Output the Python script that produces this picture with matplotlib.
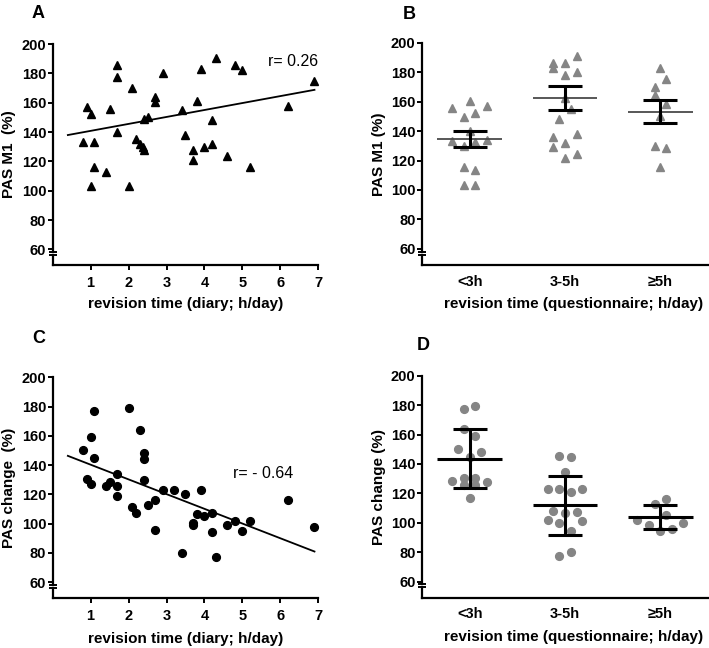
import matplotlib
matplotlib.use("Agg")
import matplotlib.pyplot as plt
import numpy as np

plt.rcParams["font.family"] = ["Liberation Sans", "DejaVu Sans"]
plt.rcParams["font.weight"] = "bold"
plt.rcParams["axes.labelweight"] = "bold"

# --- panel A / C: diary revision time vs PAS ---
diary_a = [0.8, 0.91, 1.0, 1.1, 1.0, 1.1, 1.4, 1.5, 1.7, 1.7, 1.7, 2.0, 2.1, 2.2,
           2.3, 2.38, 2.4, 2.4, 2.5, 2.7, 2.7, 2.9, 3.4, 3.5, 3.7, 3.7, 3.8, 3.9,
           4.0, 4.2, 4.2, 4.3, 4.6, 4.8, 5.0, 5.2, 6.2, 6.9]
pas_m1 = [133, 157, 152, 133, 103.6, 116, 113, 156, 186, 177.5, 140, 103.6, 170, 135.6,
          132, 130, 128, 149, 150, 164, 160.5, 180, 155, 138, 128, 121, 161.5, 183,
          130, 131.8, 148, 190.7, 124, 186, 182.5, 116, 158, 175]
fit_a = (136.1, 4.74)  # intercept, slope
r_a = "r= 0.26"

diary_c = [0.8, 0.9, 1.0, 1.0, 1.1, 1.1, 1.4, 1.5, 1.7, 1.7, 1.7, 2.0, 2.1, 2.2,
           2.3, 2.4, 2.4, 2.4, 2.5, 2.7, 2.7, 2.9, 3.2, 3.4, 3.5, 3.7, 3.7, 3.8,
           3.9, 4.0, 4.2, 4.2, 4.3, 4.6, 4.8, 5.0, 5.2, 6.2, 6.9]
pas_change = [150.3, 130.3, 126.9, 159.2, 177, 145, 125.7, 128.2, 134.2, 125.5, 118.7, 179, 111.6, 107,
              164, 148.5, 144.4, 130, 112.8, 116.4, 95.5, 123, 123, 80, 120.3, 100.2, 99, 106.6,
              123, 105, 107.5, 94, 77.2, 99.3, 101.6, 94.8, 101.6, 116, 97.7]
fit_c = (150.4, -10.06)
r_c = "r= - 0.64"
fit_range = (0.4, 6.9)

# --- panel B / D: questionnaire groups ---
groups = ["<3h", "3-5h", "\u22655h"]

b_vals = [
    [155.8, 160.6, 157.2, 149.3, 152.4, 140.0, 133.4, 130.0, 132.7, 133.9, 115.7, 113.3, 103.5, 103.5],
    [186.4, 186.0, 191.2, 182.6, 178.0, 180.3, 162.2, 155.2, 148.1, 136.1, 131.6, 138.2, 128.9, 121.8, 124.2],
    [182.6, 175.3, 169.9, 164.2, 158.3, 150.0, 130.0, 128.6, 115.7],
]
b_slots = [
    [-3, 0, 3, -1, 1, 0, -3, -1, 1, 3, -1, 1, -1, 1],
    [-2, 0, 2, -2, 0, 2, 0, 1, -1, -2, 0, 2, -2, 0, 2],
    [0, 1, -1, -1, 1, 0, -1, 1, 0],
]
b_mean = [134.6, 162.2, 153.1]
b_lo = [129.1, 154.0, 145.4]
b_hi = [140.0, 170.4, 160.8]

d_vals = [
    [177.2, 179.2, 163.8, 159.2, 150.4, 148.3, 144.9, 128.6, 130.7, 130.7, 125.9, 125.5, 127.6, 116.7],
    [145.4, 144.7, 134.5, 122.8, 122.8, 120.8, 122.8, 107.8, 106.9, 107.4, 101.9, 99.7, 101.3, 94.7, 77.5, 80.0],
    [112.8, 116.0, 105.3, 102.0, 98.2, 94.7, 95.6, 99.7],
]
d_slots = [
    [-1, 1, -1, 1, -2, 2, 0, -3, -1, 1, -1, 1, 3, 0],
    [-1, 1, 0, -3, -1, 1, 3, -2, 0, 2, -3, -1, 3, 1, -1, 1],
    [-1, 1, 1, -4, -2, 0, 2, 4],
]
d_mean = [143.4, 112.1, 104.2]
d_lo = [123.5, 91.5, 95.8]
d_hi = [163.8, 132.0, 112.3]

yticks = [60, 80, 100, 120, 140, 160, 180, 200]
GREY = "#858585"
SLOT = 0.0604
TICK_FS = 10.5
LABEL_FS = 11


def broken_yaxis(ax, ybot):
    ax.spines["left"].set_visible(False)
    tr = ax.get_yaxis_transform()
    ax.plot([0, 0], [58.0, 200], color="black", lw=1.6, transform=tr, clip_on=False, zorder=5)
    ax.plot([0, 0], [ybot, 56.1], color="black", lw=1.6, transform=tr, clip_on=False, zorder=5)
    ax.plot([0, 0], [58.0, 56.1], ls="none", marker="_", ms=6, mew=1.4, color="black",
            transform=tr, clip_on=False, zorder=5)


def style(ax, ybot):
    ax.set_ylim(ybot, 200)
    ax.set_yticks(yticks)
    ax.spines["top"].set_visible(False)
    ax.spines["right"].set_visible(False)
    ax.spines["bottom"].set_linewidth(1.6)
    ax.tick_params(axis="y", direction="out", length=3.6, width=1.4, pad=1, labelsize=TICK_FS)
    broken_yaxis(ax, ybot)


def scatter_panel(ax, x, y, marker, fit, rtxt, rpos, ylabel, ms):
    ybot = 49.4
    ax.plot(x, y, ls="none", marker=marker, ms=ms, color="black", clip_on=False, zorder=3)
    xs = np.array(fit_range)
    ax.plot(xs, fit[0] + fit[1] * xs, color="black", lw=1.3, zorder=4)
    ax.set_xlim(0, 7)
    ax.set_xticks(range(1, 8))
    ax.tick_params(axis="x", direction="out", length=3.6, width=1.4, pad=4.5, labelsize=TICK_FS)
    style(ax, ybot)
    ax.text(rpos[0], rpos[1], rtxt, fontsize=11.5, fontweight="normal", va="center", ha="left")
    ax.set_ylabel(ylabel, fontsize=LABEL_FS)
    ax.yaxis.set_label_coords(-0.138, 0.5)
    ax.set_xlabel("revision time (diary; h/day)", fontsize=LABEL_FS)


def group_panel(ax, vals, slots, mean, lo, hi, marker, ms, mean_color, mean_lw, ylabel):
    ybot = 49.0
    for i, (v, s) in enumerate(zip(vals, slots)):
        xx = i + np.array(s) * SLOT
        ax.plot(xx, v, ls="none", marker=marker, ms=ms, color=GREY, mec=GREY, clip_on=False, zorder=3)
    for i in range(len(groups)):
        ax.plot([i - 0.34, i + 0.34], [mean[i], mean[i]], color=mean_color, lw=mean_lw, zorder=4,
                solid_capstyle="butt")
        ax.plot([i, i], [lo[i], hi[i]], color="black", lw=2.2, zorder=5, solid_capstyle="butt")
        for yy in (lo[i], hi[i]):
            ax.plot([i - 0.18, i + 0.18], [yy, yy], color="black", lw=2.2, zorder=5,
                    solid_capstyle="butt")
    ax.set_xlim(-0.5, 2.5)
    ax.set_xticks(range(len(groups)))
    ax.set_xticklabels(groups)
    ax.tick_params(axis="x", length=0, pad=7, labelsize=TICK_FS)
    style(ax, ybot)
    ax.set_ylabel(ylabel, fontsize=LABEL_FS)
    ax.yaxis.set_label_coords(-0.126, 0.5)
    ax.set_xlabel("revision time (questionnaire; h/day)", fontsize=LABEL_FS)


fig = plt.figure(figsize=(7.09, 6.48), dpi=100)
ax_a = fig.add_axes([0.0743, 0.591, 0.3746, 0.341])
ax_b = fig.add_axes([0.5952, 0.591, 0.4034, 0.343])
ax_c = fig.add_axes([0.0743, 0.0776, 0.3746, 0.340])
ax_d = fig.add_axes([0.5952, 0.0776, 0.4034, 0.3426])

scatter_panel(ax_a, diary_a, pas_m1, "^", fit_a, r_a, (5.68, 188), "PAS M1  (%)", 6.0)
ax_a.xaxis.set_label_coords(0.5, -0.143)
scatter_panel(ax_c, diary_c, pas_change, "o", fit_c, r_c, (4.76, 134.4), "PAS change  (%)", 5.6)
ax_c.xaxis.set_label_coords(0.5, -0.154)

group_panel(ax_b, b_vals, b_slots, b_mean, b_lo, b_hi, "^", 6.2, "#4a4a4a", 1.3, "PAS M1 (%)")
ax_b.xaxis.set_label_coords(0.531, -0.143)
group_panel(ax_d, d_vals, d_slots, d_mean, d_lo, d_hi, "o", 5.6, "black", 2.2, "PAS change (%)")
ax_d.xaxis.set_label_coords(0.531, -0.146)

for lbl, x, y in [("A", 0.045, 0.972), ("B", 0.568, 0.971), ("C", 0.045, 0.4707), ("D", 0.588, 0.46)]:
    fig.text(x, y, lbl, fontsize=13, fontweight="bold", va="baseline", ha="left")

fig.savefig("out.png", dpi=100)
